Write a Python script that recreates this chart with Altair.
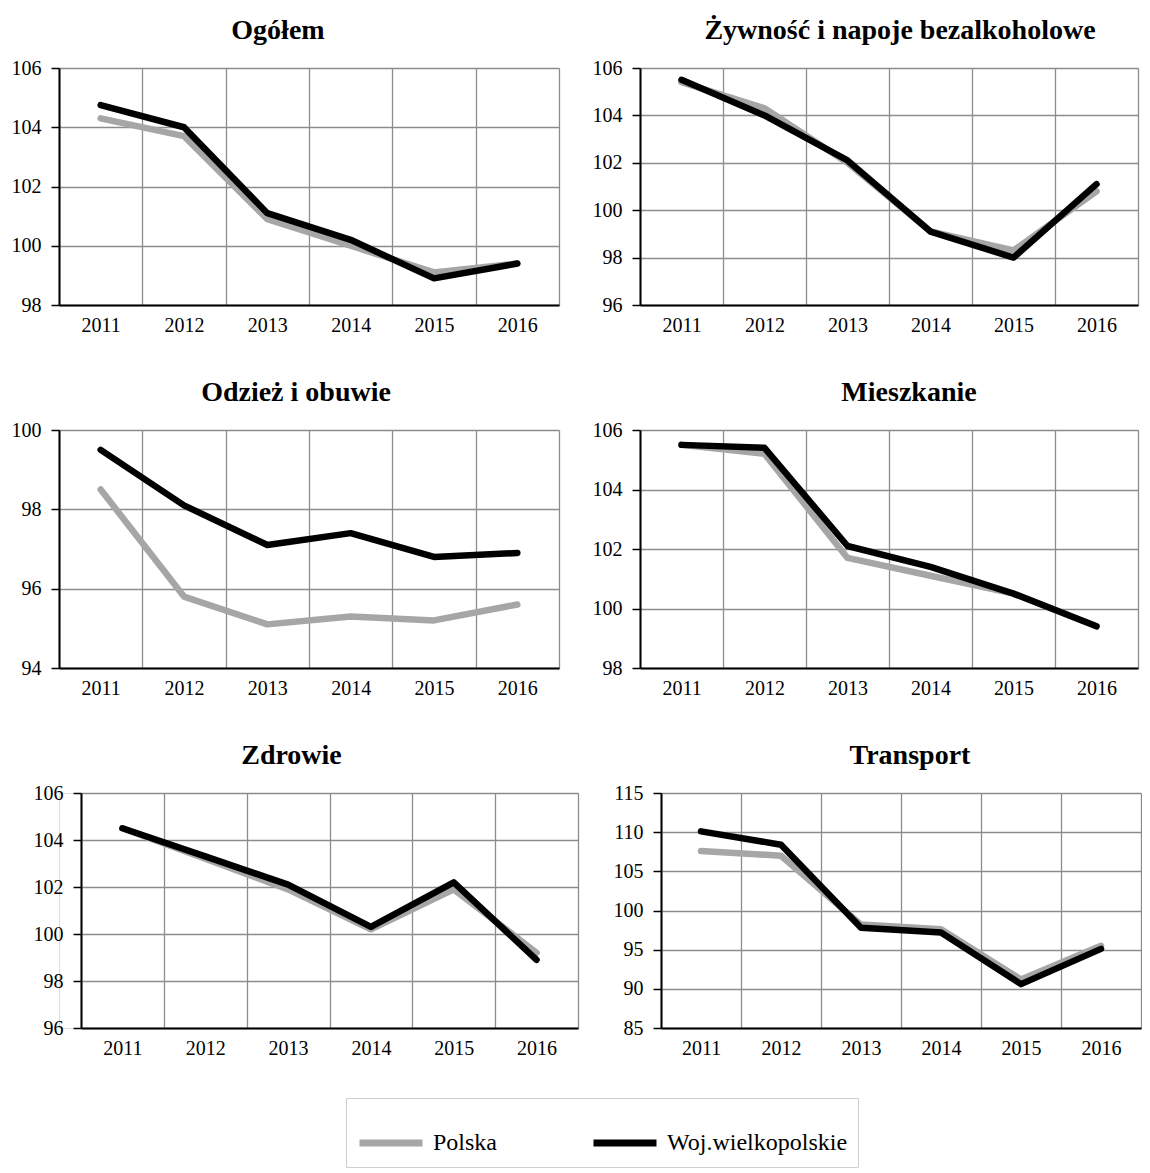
import altair as alt
import pandas as pd

FONT = "Liberation Serif"
GRID = "#8c8c8c"

years = ["2011", "2012", "2013", "2014", "2015", "2016"]
series_names = ["Polska", "Woj.wielkopolskie"]
series_colors = ["#a6a6a6", "#000000"]

# Ogółem
ogolem_pl = [104.3, 103.7, 100.9, 100.0, 99.1, 99.4]
ogolem_wlkp = [104.75, 104.0, 101.1, 100.2, 98.9, 99.4]
# Żywność i napoje bezalkoholowe
zywnosc_pl = [105.4, 104.3, 102.0, 99.1, 98.3, 100.8]
zywnosc_wlkp = [105.5, 104.0, 102.1, 99.1, 98.0, 101.1]
# Odzież i obuwie
odziez_pl = [98.5, 95.8, 95.1, 95.3, 95.2, 95.6]
odziez_wlkp = [99.5, 98.1, 97.1, 97.4, 96.8, 96.9]
# Mieszkanie
mieszk_pl = [105.5, 105.2, 101.7, 101.1, 100.5, 99.4]
mieszk_wlkp = [105.5, 105.4, 102.1, 101.4, 100.5, 99.4]
# Zdrowie
zdrowie_pl = [104.5, 103.2, 101.9, 100.2, 101.9, 99.2]
zdrowie_wlkp = [104.5, 103.3, 102.1, 100.3, 102.2, 98.9]
# Transport
transport_pl = [107.6, 107.0, 98.2, 97.6, 91.2, 95.5]
transport_wlkp = [110.1, 108.4, 97.8, 97.2, 90.6, 95.1]

LEGEND = alt.Legend(
    title=None, orient="none", legendX=287, legendY=1030,
    direction="horizontal", symbolType="stroke", symbolSize=3969,
    symbolStrokeWidth=7, labelFont=FONT, labelFontSize=24,
    labelColor="black", labelOffset=7, columnPadding=81, padding=10,
    strokeColor="#cfcfcf", fillColor="white", labelLimit=400,
)


def panel(title, pl, wlkp, ydom, yvals, width, height, dx, lead=0):
    df = pd.DataFrame({
        "rok": years * 2,
        "seria": [series_names[0]] * len(years) + [series_names[1]] * len(years),
        "wartosc": pl + wlkp,
    })
    xscale = alt.Scale(type="band", paddingInner=0, paddingOuter=0)
    if lead:
        xscale = alt.Scale(type="band", paddingInner=0, paddingOuter=0,
                           range=[lead, width])
    yaxis_kw = {}
    if lead:
        yaxis_kw["offset"] = -lead
    return alt.Chart(df).mark_line(
        strokeWidth=6.5, strokeCap="round", strokeJoin="round"
    ).encode(
        x=alt.X(
            "rok:O", bandPosition=0.5, scale=xscale,
            axis=alt.Axis(
                title=None, tickBand="extent", ticks=False, labelPadding=10,
                labelFont=FONT, labelFontSize=20, labelColor="black",
                labelAngle=0, grid=True, gridColor=GRID, gridWidth=1.3,
                domainColor="black", domainWidth=2,
            ),
        ),
        y=alt.Y(
            "wartosc:Q",
            scale=alt.Scale(domain=ydom, nice=False, zero=False),
            axis=alt.Axis(
                title=None, values=yvals, tickSize=8, tickColor="black",
                tickWidth=1.5, labelPadding=10, labelFont=FONT,
                labelFontSize=20, labelColor="black", grid=True,
                gridColor=GRID, gridWidth=1.3, domainColor="black",
                domainWidth=2, **yaxis_kw,
            ),
        ),
        color=alt.Color(
            "seria:N",
            scale=alt.Scale(domain=series_names, range=series_colors),
            legend=LEGEND,
        ),
    ).properties(
        width=width, height=height,
        title=alt.TitleParams(
            text=title, font=FONT, fontSize=28, fontWeight="bold",
            color="black", anchor="middle", frame="group", dx=dx,
            offset=-9, baseline="alphabetic",
        ),
    )


p1 = panel("Ogółem", ogolem_pl, ogolem_wlkp, [98, 106], [98, 100, 102, 104, 106], 500, 237, -31)
p2 = panel("Żywność i napoje bezalkoholowe", zywnosc_pl, zywnosc_wlkp, [96, 106], [96, 98, 100, 102, 104, 106], 498, 237, 11)
p3 = panel("Odzież i obuwie", odziez_pl, odziez_wlkp, [94, 100], [94, 96, 98, 100], 500, 238, -13)
p4 = panel("Mieszkanie", mieszk_pl, mieszk_wlkp, [98, 106], [98, 100, 102, 104, 106], 498, 238, 20)
p5 = panel("Zdrowie", zdrowie_pl, zdrowie_wlkp, [96, 106], [96, 98, 100, 102, 104, 106], 519, 235, -27, lead=22)
p6 = panel("Transport", transport_pl, transport_wlkp, [85, 115], [85, 90, 95, 100, 105, 110, 115], 480, 235, 9)

row1 = alt.hconcat(p1, p2, spacing=31)
row2 = alt.hconcat(p3, p4, spacing=31)
row3 = alt.hconcat(p5, p6, spacing=33)

chart = alt.vconcat(row1, row2, row3, spacing=42).properties(
    padding={"left": 2, "top": 8, "right": 0, "bottom": 0}
).configure_view(stroke="transparent", strokeWidth=0).configure(background="white")

chart.save("out.html", embed_options={"renderer": "svg", "actions": False})
